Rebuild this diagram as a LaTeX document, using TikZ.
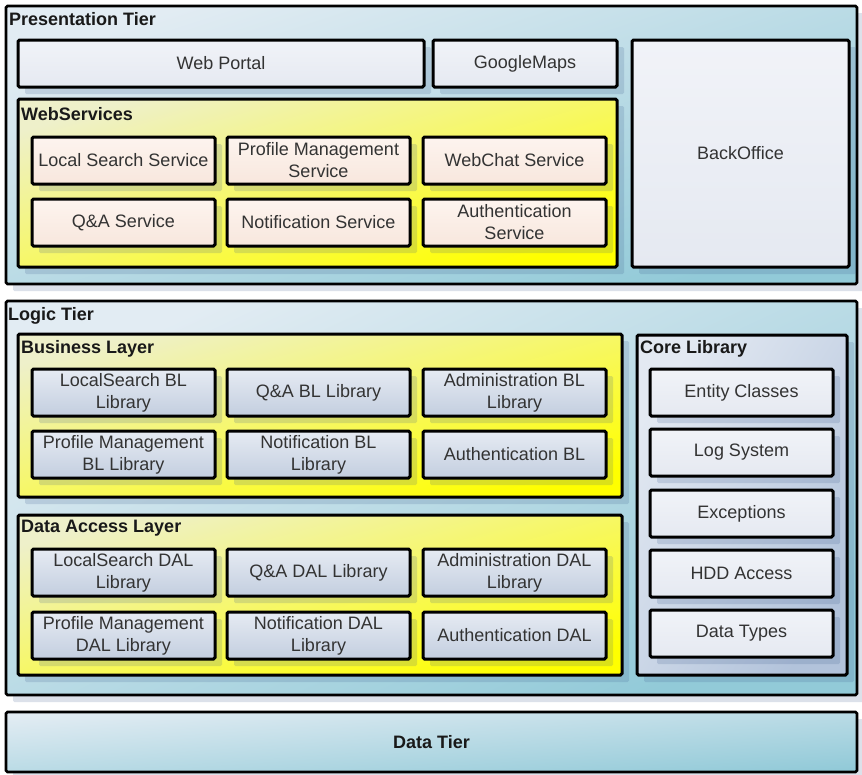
\documentclass[tikz,border=0pt]{standalone}
\usepackage{fontspec}
\setmainfont{Liberation Sans}
\usetikzlibrary{shadows}

\definecolor{tierA}{HTML}{E2ECF3}
\definecolor{tierM}{HTML}{A0D3DF}
\definecolor{tierB}{HTML}{92CAD8}
\definecolor{yelA}{HTML}{EEF0CA}
\definecolor{yelM}{HTML}{FAFA3C}
\definecolor{yelB}{HTML}{FFFF00}
\definecolor{svcA}{HTML}{FDF4EF}
\definecolor{svcB}{HTML}{F8E7DD}
\definecolor{libA}{HTML}{E6EBF3}
\definecolor{libB}{HTML}{C3CEDF}
\definecolor{plainA}{HTML}{F1F3F8}
\definecolor{plainB}{HTML}{E5E9F1}
\definecolor{coreA}{HTML}{E3E9F2}
\definecolor{coreM}{HTML}{C6D2E3}
\definecolor{coreB}{HTML}{B2C3DB}
\definecolor{shade}{HTML}{3C5A8C}
\definecolor{txt}{HTML}{333333}

% Containers are shaded from their top-left corner along the box diagonal;
% the shading angle given with each container is atan(height/width).
\tikzset{
  x=1pt, y=-1pt,
  box/.style={draw=black, line width=3pt, rounded corners=1.5pt,
    inner sep=0pt, outer sep=0pt, anchor=north west, align=center,
    font=\fontsize{18}{22}\selectfont, text=txt,
    drop shadow={shadow xshift=7pt, shadow yshift=-7pt, fill=shade, opacity=0.18}},
  tier/.style={box, line width=2.6pt, top color=tierA, middle color=tierM,
    bottom color=tierB, shading angle=#1},
  layer/.style={box, top color=yelA, middle color=yelM, bottom color=yelB,
    shading angle=#1},
  corebox/.style={box, top color=coreA, middle color=coreM, bottom color=coreB,
    shading angle=#1},
  plain/.style={box, top color=plainA, bottom color=plainB},
  svc/.style={box, top color=svcA, bottom color=svcB,
    minimum width=183pt, minimum height=47pt},
  lib/.style={box, top color=libA, bottom color=libB,
    minimum width=183pt, minimum height=47pt},
  core/.style={plain, minimum width=183pt, minimum height=47pt},
  title/.style={anchor=west, inner sep=0pt, text=black!90,
    font=\fontsize{18}{22}\selectfont\bfseries},
}

\begin{document}
\begin{tikzpicture}
\useasboundingbox (0,0) rectangle (862,774);

% ---- Presentation tier ----
\node[tier=18, minimum width=851pt, minimum height=278pt] (pres) at (6,6) {};
\node[title] (presT) at (9,19) {Presentation Tier};
\node[plain, minimum width=406pt, minimum height=47pt] (portal) at (18,40) {Web Portal};
\node[plain, minimum width=184pt, minimum height=47pt] (gmaps) at (433,40) {GoogleMaps};
\node[plain, minimum width=217pt, minimum height=227pt] (back) at (632,40) {BackOffice};
\node[layer=16, minimum width=599pt, minimum height=168pt] (ws) at (18,99) {};
\node[title] (wsT) at (21,114) {WebServices};
\node[svc] (s1) at (32,137) {Local Search Service};
\node[svc] (s2) at (227,137) {Profile Management\\Service};
\node[svc] (s3) at (423,137) {WebChat Service};
\node[svc] (s4) at (32,199) {Q\&A Service};
\node[svc] (s5) at (227,199) {Notification Service};
\node[svc] (s6) at (423,199) {Authentication\\Service};

% ---- Logic tier ----
\node[tier=25, minimum width=851pt, minimum height=394pt] (logic) at (6,301) {};
\node[title] (logicT) at (8,316) {Logic Tier};

\node[layer=15, minimum width=604pt, minimum height=163pt] (bl) at (18,334) {};
\node[title] (blT) at (21,349) {Business Layer};
\node[lib] (b1) at (32,369) {LocalSearch BL\\Library};
\node[lib] (b2) at (227,369) {Q\&A BL Library};
\node[lib] (b3) at (423,369) {Administration BL\\Library};
\node[lib] (b4) at (32,431) {Profile Management\\BL Library};
\node[lib] (b5) at (227,431) {Notification BL\\Library};
\node[lib] (b6) at (423,431) {Authentication BL};

\node[layer=15, minimum width=604pt, minimum height=160pt] (dal) at (18,515) {};
\node[title] (dalT) at (21,528) {Data Access Layer};
\node[lib] (d1) at (32,549) {LocalSearch DAL\\Library};
\node[lib] (d2) at (227,549) {Q\&A DAL Library};
\node[lib] (d3) at (423,549) {Administration DAL\\Library};
\node[lib] (d4) at (32,612) {Profile Management\\DAL Library};
\node[lib] (d5) at (227,612) {Notification DAL\\Library};
\node[lib] (d6) at (423,612) {Authentication DAL};

\node[corebox=58, minimum width=210pt, minimum height=340pt] (corelib) at (637,335) {};
\node[title] (coreT) at (640,349) {Core Library};
\node[core] (c1) at (650,369) {Entity Classes};
\node[core] (c2) at (650,429) {Log System};
\node[core] (c3) at (650,490) {Exceptions};
\node[core] (c4) at (650,550) {HDD Access};
\node[core] (c5) at (650,610) {Data Types};

% ---- Data tier ----
\node[tier=4, minimum width=851pt, minimum height=60pt,
      font=\fontsize{18}{22}\selectfont\bfseries, text=black!90] (data) at (6,712) {Data Tier};
\end{tikzpicture}
\end{document}
